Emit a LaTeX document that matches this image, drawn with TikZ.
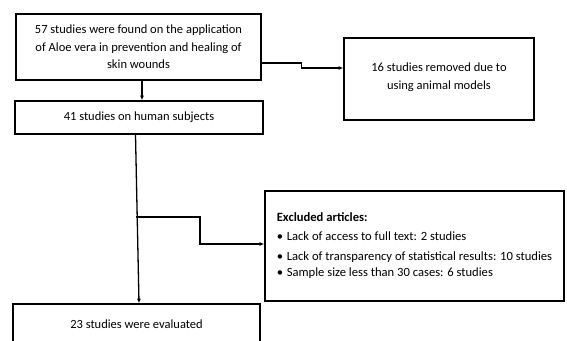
\documentclass[tikz,border=0pt]{standalone}
\usepackage{fontspec}
\setmainfont{Carlito}
\usetikzlibrary{arrows.meta}

\begin{document}
\begin{tikzpicture}[
      x=1pt,y=-1pt,
      >={Latex[length=4.5pt,width=4pt]},
      box/.style={draw,line width=1.6pt,align=center,inner sep=0pt,
        font=\fontsize{12.5}{17.5}\selectfont},
      link/.style={->,line width=1.3pt,line join=miter}]
    \useasboundingbox (0,0) rectangle (567,340);
    \clip (0,0) rectangle (567,340);
    \node[box,minimum width=245,minimum height=66] (found) at (138.5,47)
      {57 studies were found on the application\\
       of Aloe vera in prevention and healing of\\
       skin wounds};
    \node[box,minimum width=248,minimum height=33] (human) at (139,117.5)
      {41 studies on human subjects};
    \node[box,minimum width=190,minimum height=82,text depth=6pt] (removed) at (439,79)
      {16 studies removed due to\\ using animal models};
    \node[box,minimum width=299,minimum height=110,align=left,
      font=\fontsize{12.6}{16}\selectfont] (excluded) at (414.5,246)
      {\textbf{Excluded articles:}\\[3pt]
       \makebox[10pt][l]{\textbullet}Lack of access to full text: 2 studies\\[4pt]
       \makebox[10pt][l]{\textbullet}Lack of transparency of statistical results: 10 studies\\
       \makebox[10pt][l]{\textbullet}Sample size less than 30 cases: 6 studies};
    \node[box,minimum width=247,minimum height=40] (evaluated) at (136.5,324)
      {23 studies were evaluated};
    \coordinate (branch) at (135.5,217);
    \draw[link] ([xshift=3.5pt]found.south) -- ([xshift=3pt]human.north);
    \draw[link] ([yshift=-16pt]found.east) -- ++(40,0) |- ([yshift=11pt]removed.west);
    \draw[link] ([xshift=-3.5pt]human.south) -- ([xshift=2.5pt]evaluated.north);
    \draw[link] (branch) -- ++(64.5,0) |- ([yshift=2pt]excluded.west);
  \end{tikzpicture}
\end{document}
